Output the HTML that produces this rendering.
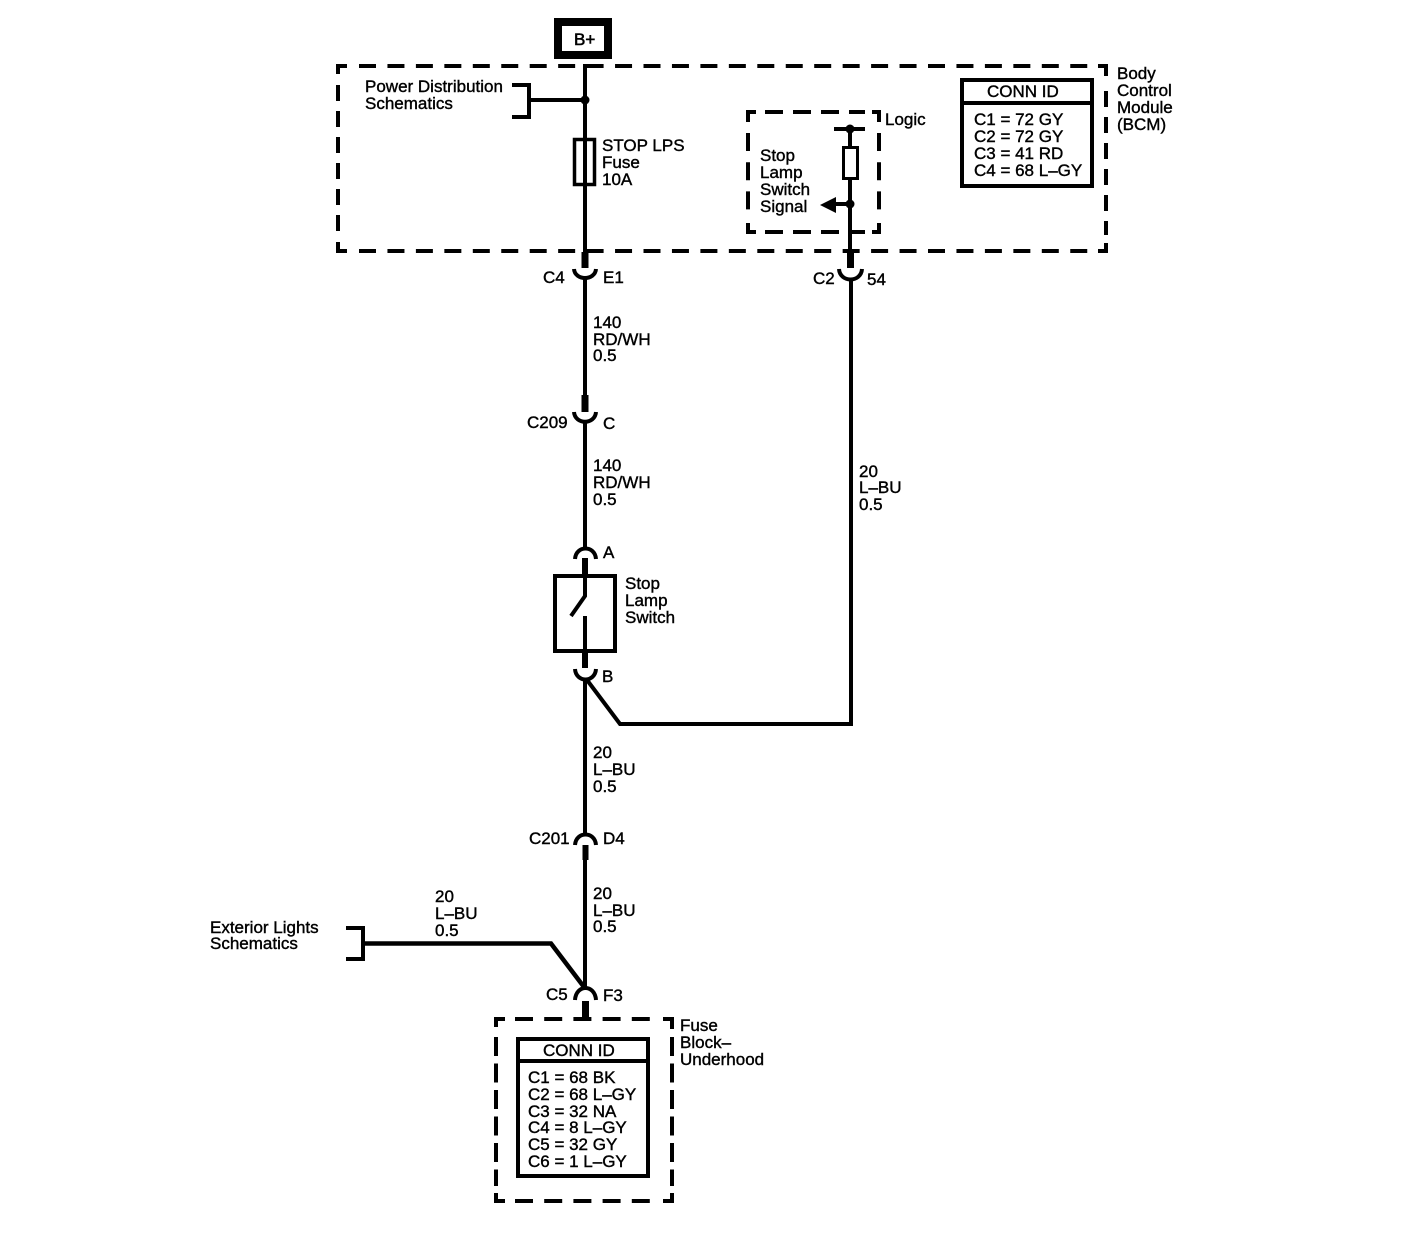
<!DOCTYPE html>
<html><head><meta charset="utf-8"><style>
html,body{margin:0;padding:0;background:#fff}
svg{display:block}
text{font-family:"Liberation Sans",sans-serif;font-size:17px;fill:#000;stroke:#000;stroke-width:.4}
.w{stroke:#000;stroke-width:4;fill:none}
.t{stroke:#000;stroke-width:7;fill:none}
.d1{stroke:#000;stroke-width:4;fill:none;stroke-dasharray:17 11.45}
.d2{stroke:#000;stroke-width:4;fill:none;stroke-dasharray:16 10}
.d3{stroke:#000;stroke-width:4;fill:none;stroke-dasharray:18 10}
.d4{stroke:#000;stroke-width:4;fill:none;stroke-dasharray:18 11.2}
.d5{stroke:#000;stroke-width:4;fill:none;stroke-dasharray:19 7.5}
</style></head><body>
<svg width="1408" height="1240" viewBox="0 0 1408 1240" xmlns="http://www.w3.org/2000/svg">
<rect width="1408" height="1240" fill="#fff"/>
<!-- B+ -->
<rect x="558" y="22" width="50" height="33" fill="#fff" stroke="#000" stroke-width="8"/>
<text x="574" y="45" style="font-size:17px;stroke-width:.6">B+</text>

<!-- BCM dashed box -->
<path class="w" d="M347,66H338V74"/>
<line class="d1" x1="359" y1="66" x2="1092" y2="66"/>
<path class="w" d="M1098,66H1106V76"/>
<line class="d2" x1="338" y1="85" x2="338" y2="235"/>
<path class="w" d="M338,242V251H347"/>
<line class="d1" x1="359" y1="251" x2="1092" y2="251"/>
<path class="w" d="M1098,251H1106V243"/>
<line class="d2" x1="1106" y1="91" x2="1106" y2="235"/>

<!-- Logic dashed box -->
<path class="w" d="M756,112H748V122"/>
<line class="d3" x1="765" y1="112" x2="865" y2="112"/>
<path class="w" d="M872,112H879V122"/>
<line class="d4" x1="748" y1="133" x2="748" y2="212"/>
<line class="d4" x1="879" y1="133" x2="879" y2="212"/>
<path class="w" d="M748,223V232H756"/>
<line class="d3" x1="765" y1="232" x2="865" y2="232"/>
<path class="w" d="M872,232H879V223"/>

<!-- Left main wire top -->
<path class="w" d="M600,66H585V252"/>
<circle cx="585" cy="100" r="4.5"/>
<path class="w" d="M512,85H529V117H512M529,100H585"/>
<rect x="574.5" y="139.5" width="20" height="45" fill="none" stroke="#000" stroke-width="3.5"/>
<line class="t" x1="585" y1="252" x2="585" y2="268"/>
<path class="w" d="M574,269C575,281 595,281 596,269"/>
<line class="w" x1="585" y1="279" x2="585" y2="395"/>

<!-- C209 -->
<line class="t" x1="585" y1="395" x2="585" y2="412"/>
<path class="w" d="M574,412C575,425 595,425 596,412"/>
<line class="w" x1="585" y1="422" x2="585" y2="548"/>

<!-- A -->
<path class="w" d="M575,559C576,545 595,545 596,559"/>
<line class="t" x1="585" y1="558" x2="585" y2="575" style="stroke-width:6"/>
<rect x="555" y="576" width="60" height="75" fill="none" stroke="#000" stroke-width="4"/>
<path class="w" d="M585,575V596L571,616"/>
<line class="w" x1="585" y1="616" x2="585" y2="652"/>
<line class="t" x1="585" y1="652" x2="585" y2="668" style="stroke-width:6"/>
<path class="w" d="M575,669C576,683 595,683 596,669"/>
<line class="w" x1="585" y1="679" x2="585" y2="833"/>
<path class="w" d="M587,680L620,724H851V279"/>

<!-- C201 -->
<path class="w" d="M575,845C576,831 595,831 596,845"/>
<line class="t" x1="585.5" y1="845" x2="585.5" y2="860" style="stroke-width:6"/>
<line class="w" x1="585" y1="860" x2="585" y2="988"/>

<!-- Exterior -->
<path class="w" d="M346,928H363V959H346"/>
<path d="M363,943.5H551L584,987" fill="none" stroke="#000" stroke-width="4.5"/>

<!-- C5/F3 -->
<path class="w" d="M575,1000C576,984 595,984 596,1000"/>
<line class="t" x1="585.5" y1="1001" x2="585.5" y2="1019"/>

<!-- Right wire in logic -->
<path class="w" d="M834,129H865M850,129V252"/>
<circle cx="850" cy="129" r="4.5"/>
<rect x="843.5" y="147.5" width="14" height="31" fill="#fff" stroke="#000" stroke-width="3"/>
<circle cx="850" cy="204" r="4.5"/>
<path class="w" d="M832,204H850"/>
<path d="M820,205L836,197V213Z"/>
<line class="t" x1="850.5" y1="252" x2="850.5" y2="268"/>
<path class="w" d="M839,269C840,283 861,283 862,269"/>

<!-- BCM conn id -->
<rect x="962" y="80" width="130" height="106" fill="none" stroke="#000" stroke-width="4"/>
<line class="w" x1="962" y1="103" x2="1092" y2="103"/>

<!-- Fuse block dashed box -->
<path class="w" d="M505,1019H496V1027"/>
<line class="d4" x1="515" y1="1019" x2="655" y2="1019"/>
<path class="w" d="M663,1019H672V1029"/>
<line class="d5" x1="496" y1="1037" x2="496" y2="1186"/>
<line class="d5" x1="672" y1="1037" x2="672" y2="1186"/>
<path class="w" d="M496,1193V1201H505"/>
<line class="d4" x1="515" y1="1201" x2="655" y2="1201"/>
<path class="w" d="M663,1201H672V1193"/>

<!-- Fuse conn id -->
<rect x="518" y="1039" width="130" height="137" fill="none" stroke="#000" stroke-width="4"/>
<line class="w" x1="518" y1="1061" x2="648" y2="1061"/>

<!-- Text -->
<text x="365" y="92">Power Distribution</text>
<text x="365" y="109">Schematics</text>
<text x="602" y="151">STOP LPS</text>
<text x="602" y="168">Fuse</text>
<text x="602" y="185">10A</text>
<text x="885" y="125">Logic</text>
<text x="760" y="161">Stop</text>
<text x="760" y="178">Lamp</text>
<text x="760" y="195">Switch</text>
<text x="760" y="212">Signal</text>
<text x="1117" y="79">Body</text>
<text x="1117" y="96">Control</text>
<text x="1117" y="113">Module</text>
<text x="1117" y="130">(BCM)</text>
<text x="987" y="97">CONN ID</text>
<text x="974" y="125">C1 = 72 GY</text>
<text x="974" y="142">C2 = 72 GY</text>
<text x="974" y="159">C3 = 41 RD</text>
<text x="974" y="176">C4 = 68 L&#8211;GY</text>
<text x="543" y="283">C4</text>
<text x="603" y="283">E1</text>
<text x="813" y="284">C2</text>
<text x="867" y="285">54</text>
<text x="593" y="328">140</text>
<text x="593" y="345">RD/WH</text>
<text x="593" y="361">0.5</text>
<text x="527" y="428">C209</text>
<text x="603" y="429">C</text>
<text x="593" y="471">140</text>
<text x="593" y="488">RD/WH</text>
<text x="593" y="505">0.5</text>
<text x="859" y="477">20</text>
<text x="859" y="493">L&#8211;BU</text>
<text x="859" y="510">0.5</text>
<text x="603" y="558">A</text>
<text x="625" y="589">Stop</text>
<text x="625" y="606">Lamp</text>
<text x="625" y="623">Switch</text>
<text x="602" y="682">B</text>
<text x="593" y="758">20</text>
<text x="593" y="775">L&#8211;BU</text>
<text x="593" y="792">0.5</text>
<text x="529" y="844">C201</text>
<text x="603" y="844">D4</text>
<text x="593" y="899">20</text>
<text x="593" y="916">L&#8211;BU</text>
<text x="593" y="932">0.5</text>
<text x="435" y="902">20</text>
<text x="435" y="919">L&#8211;BU</text>
<text x="435" y="936">0.5</text>
<text x="210" y="933">Exterior Lights</text>
<text x="210" y="949">Schematics</text>
<text x="546" y="1000">C5</text>
<text x="603" y="1001">F3</text>
<text x="680" y="1031">Fuse</text>
<text x="680" y="1048">Block&#8211;</text>
<text x="680" y="1065">Underhood</text>
<text x="543" y="1056">CONN ID</text>
<text x="528" y="1083">C1 = 68 BK</text>
<text x="528" y="1100">C2 = 68 L&#8211;GY</text>
<text x="528" y="1117">C3 = 32 NA</text>
<text x="528" y="1133">C4 = 8 L&#8211;GY</text>
<text x="528" y="1150">C5 = 32 GY</text>
<text x="528" y="1167">C6 = 1 L&#8211;GY</text>
</svg>
</body></html>
